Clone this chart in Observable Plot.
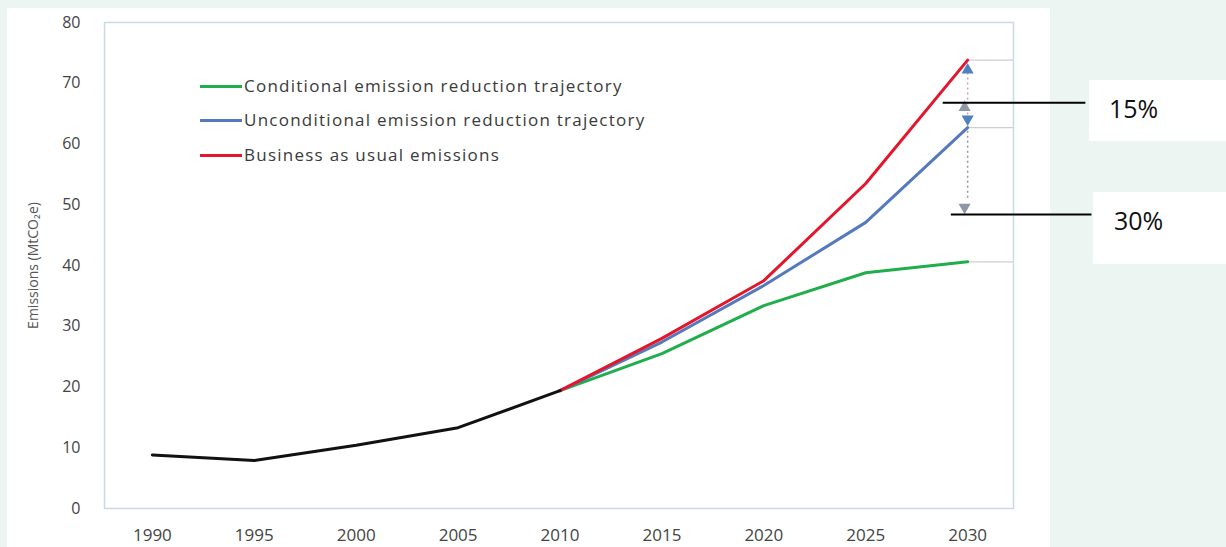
<!DOCTYPE html>
<html>
<head>
<meta charset="utf-8">
<script src="https://cdn.jsdelivr.net/npm/d3@7"></script>
<script src="https://cdn.jsdelivr.net/npm/@observablehq/plot@0.6"></script>
<style>
  html, body { margin: 0; padding: 0; }
  body { width: 1226px; height: 547px; background: #edf5f2; position: relative; overflow: hidden; font-family: "Open Sans", sans-serif; }
  #paper { position: absolute; left: 7px; top: 8px; width: 1043px; height: 539px; background: #ffffff; }
  #chart { position: absolute; left: 0; top: 0; }
  .legend { position: absolute; left: 200px; top: 74px; color: #3a3a3a; font-size: 17px; letter-spacing: 1.25px; }
  .legend .row { position: absolute; left: 0; white-space: nowrap; height: 24px; line-height: 24px; }
  .legend .sw { position: absolute; left: 0; top: 11px; width: 42px; height: 3px; }
  .legend .lbl { position: absolute; left: 44px; top: 0; }
  .note { position: absolute; background: #ffffff; color: #111; font-size: 25px; font-family: "Open Sans", sans-serif; }
</style>
</head>
<body>
<div id="paper"></div>
<div id="chart"></div>
<div class="legend" id="legend"></div>
<div class="note" style="left:1089px; top:80px; width:137px; height:61px;"><span style="position:absolute; left:20px; top:11px;">15%</span></div>
<div class="note" style="left:1093px; top:192px; width:133px; height:72px;"><span style="position:absolute; left:21px; top:11px;">30%</span></div>
<script>
// ---- data ----
const histYears = [1990, 1995, 2000, 2005, 2010];
const historical = [8.8, 7.9, 10.4, 13.3, 19.4];
const projYears = [2010, 2015, 2020, 2025, 2030];
const businessAsUsual = [19.4, 28.0, 37.5, 53.5, 73.8];
const unconditional = [19.4, 27.4, 36.7, 47.1, 62.7];
const conditional = [19.4, 25.5, 33.4, 38.8, 40.6];
const seriesNames = ["Conditional emission reduction trajectory", "Unconditional emission reduction trajectory", "Business as usual emissions"];
const seriesColors = ["#1fae4b", "#5579bd", "#e3162b"];
const xTicks = [1990, 1995, 2000, 2005, 2010, 2015, 2020, 2025, 2030];
const yTicks = [0, 10, 20, 30, 40, 50, 60, 70, 80];
const yLabel = "Emissions (MtCO\u2082e)";
// annotation values (data units)
const gapLabels = ["15%", "30%"];
const gapLeaderY = [66.8, 48.4];
const gapLeaderX1 = [2028.8, 2029.2];
const gapLeaderX2 = [2035.8, 2036.1];

// ---- build tables ----
const hist = histYears.map((x, i) => ({x, y: historical[i]}));
const proj = [];
[conditional, unconditional, businessAsUsual].forEach((arr, s) => {
  projYears.forEach((x, i) => proj.push({x, y: arr[i], s: seriesNames[s]}));
});
const endValues = [businessAsUsual, unconditional, conditional].map(a => a[a.length - 1]);
const bauEnd = businessAsUsual[4], uncEnd = unconditional[4];
const leaders = gapLabels.map((l, i) => ({y: gapLeaderY[i], x1: gapLeaderX1[i], x2: gapLeaderX2[i]}));

const xDomain = [1987.65, 2032.25];

const chart = Plot.plot({
  width: 1226,
  height: 547,
  marginLeft: 104,
  marginRight: 213,
  marginTop: 22,
  marginBottom: 39,
  style: {background: "transparent", fontFamily: "Open Sans, sans-serif", overflow: "visible"},
  x: {domain: xDomain, type: "linear"},
  y: {domain: [0, 80]},
  color: {domain: seriesNames, range: seriesColors},
  marks: [
    Plot.frame({stroke: "#c6dce2", strokeWidth: 1.5}),
    Plot.axisY({ticks: yTicks, tickSize: 0, tickPadding: 24, fontSize: 16, label: null, color: "#444", tickFormat: d => String(d)}),
    Plot.axisX({ticks: xTicks, tickSize: 0, tickPadding: 20, fontSize: 17, label: null, color: "#444", tickFormat: d => String(d), style: {letterSpacing: "2px"}}),
    Plot.text([yLabel], {frameAnchor: "left", textAnchor: "middle", rotate: -90, dx: -71, fontSize: 14, fill: "#555", style: {letterSpacing: "1px"}}),
    // extension lines at 2030 values
    Plot.ruleY(endValues, {x1: 2030, x2: xDomain[1], stroke: "#cfcfcf", strokeWidth: 1.2}),
    // projections
    Plot.line(proj, {x: "x", y: "y", z: "s", stroke: "s", strokeWidth: 3}),
    // historical
    Plot.line(hist, {x: "x", y: "y", stroke: "#111", strokeWidth: 3}),
    // dotted gap arrows
    Plot.ruleX([2030], {y1: bauEnd - 1.3, y2: uncEnd + 1.5, stroke: "#c7a3a9", strokeWidth: 1.5, strokeDasharray: "2,3"}),
    Plot.ruleX([2030], {y1: uncEnd - 0.6, y2: 50.6, stroke: "#8e97a3", strokeWidth: 1.5, strokeDasharray: "2,3"}),
    Plot.dot([{x: 2030, y: bauEnd - 1.6}], {x: "x", y: "y", symbol: "triangle", r: 4.5, fill: "#4f80c0", stroke: "none"}),
    Plot.dot([{x: 2029.85, y: uncEnd + 3.3}], {x: "x", y: "y", symbol: "triangle", r: 4.5, fill: "#8f98a6", stroke: "none"}),
    Plot.dot([{x: 2030, y: uncEnd + 1.4}], {x: "x", y: "y", symbol: "triangle", r: 4.5, rotate: 180, fill: "#4f80c0", stroke: "none"}),
    Plot.dot([{x: 2029.85, y: 49.6}], {x: "x", y: "y", symbol: "triangle", r: 4.5, rotate: 180, fill: "#8f98a6", stroke: "none"}),
    // leader lines for labels
    Plot.ruleY(leaders, {y: "y", x1: "x1", x2: "x2", stroke: "#000", strokeWidth: 2})
  ]
});
document.getElementById("chart").appendChild(chart);

// legend
const lg = document.getElementById("legend");
const rowTops = [0, 34, 69];
seriesNames.forEach((n, i) => {
  const row = document.createElement("div");
  row.className = "row";
  row.style.top = rowTops[i] + "px";
  row.innerHTML = `<span class="sw" style="background:${seriesColors[i]}"></span><span class="lbl">${n}</span>`;
  lg.appendChild(row);
});
</script>
</body>
</html>
